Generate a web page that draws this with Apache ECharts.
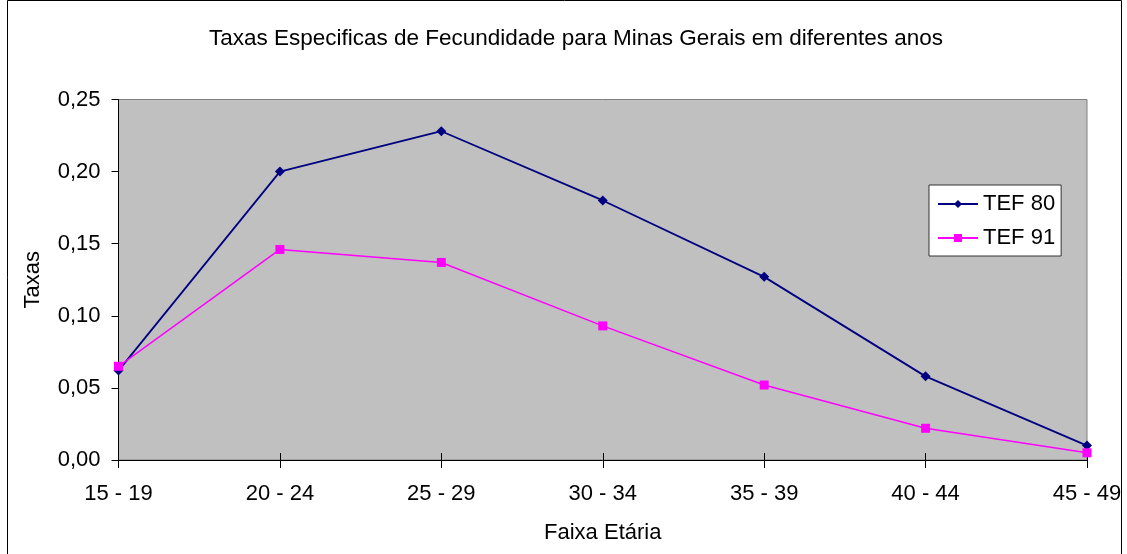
<!DOCTYPE html>
<html>
<head>
<meta charset="utf-8">
<script src="https://cdn.jsdelivr.net/npm/echarts@6/dist/echarts.min.js"></script>
<style>
  html, body { margin: 0; padding: 0; background: #fff; }
  #chart { width: 1127px; height: 554px; }
</style>
</head>
<body>
<div id="chart"></div>
<script>
const faixas = ['15 - 19', '20 - 24', '25 - 29', '30 - 34', '35 - 39', '40 - 44', '45 - 49'];
const tef80 = [0.062, 0.200, 0.228, 0.180, 0.127, 0.058, 0.010];
const tef91 = [0.065, 0.146, 0.137, 0.093, 0.052, 0.022, 0.005];

const font = 'Liberation Sans, Arial, sans-serif';
const fs = 22;
const chart = echarts.init(document.getElementById('chart'));

chart.setOption({
  animation: false,
  textStyle: { fontFamily: font },
  title: {
    text: 'Taxas Especificas de Fecundidade para Minas Gerais em diferentes anos',
    left: 571,
    textAlign: 'center',
    top: 22,
    textStyle: { fontFamily: font, fontSize: 22.5, fontWeight: 'normal', color: '#000' }
  },
  graphic: [{
    type: 'rect',
    shape: { x: 7.5, y: 0.5, width: 1114, height: 560 },
    style: { fill: null, stroke: '#000', lineWidth: 1 }
  }],
  grid: {
    left: 118.5, right: 40, top: 99.5, bottom: 94,
    show: true, backgroundColor: '#c0c0c0', borderColor: '#808080', borderWidth: 1
  },
  legend: {
    orient: 'vertical',
    left: 929, top: 185,
    backgroundColor: '#fff',
    borderColor: '#333',
    borderWidth: 1,
    padding: [8, 6, 7, 8],
    itemGap: 12,
    itemWidth: 40,
    itemHeight: 10,
    textStyle: { fontFamily: font, fontSize: fs, color: '#000' },
    data: ['TEF 80', 'TEF 91']
  },
  xAxis: [{
    type: 'category',
    data: faixas,
    boundaryGap: false,
    name: 'Faixa Etária',
    nameLocation: 'middle',
    nameGap: 62,
    nameTextStyle: { fontFamily: font, fontSize: fs, color: '#000' },
    axisLine: { lineStyle: { color: '#000', width: 1 } },
    axisTick: { length: 8, lineStyle: { color: '#000' } },
    axisLabel: { fontFamily: font, fontSize: fs, color: '#000', margin: 23 },
    splitLine: { show: false }
  }, {
    // short inner ticks so the category ticks cross the axis line
    type: 'category',
    data: faixas,
    boundaryGap: false,
    position: 'bottom',
    axisLine: { show: false },
    axisTick: { inside: true, length: 7, lineStyle: { color: '#000' } },
    axisLabel: { show: false },
    splitLine: { show: false }
  }],
  yAxis: {
    type: 'value',
    min: 0, max: 0.25, interval: 0.05,
    name: 'Taxas',
    nameLocation: 'middle',
    nameGap: 75,
    nameTextStyle: { fontFamily: font, fontSize: fs, color: '#000' },
    axisLine: { show: true, lineStyle: { color: '#000', width: 1 } },
    axisTick: { show: true, length: 7, lineStyle: { color: '#000' } },
    axisLabel: {
      fontFamily: font, fontSize: fs, color: '#000', margin: 18,
      formatter: v => v.toFixed(2).replace('.', ',')
    },
    splitLine: { show: false }
  },
  series: [{
    name: 'TEF 80',
    type: 'line',
    data: tef80,
    symbol: 'diamond',
    symbolSize: 10,
    color: '#000080',
    lineStyle: { width: 1.8, color: '#000080' },
    itemStyle: { color: '#000080' }
  }, {
    name: 'TEF 91',
    type: 'line',
    data: tef91,
    symbol: 'rect',
    symbolSize: 9,
    color: '#ff00ff',
    lineStyle: { width: 1.5, color: '#ff00ff' },
    itemStyle: { color: '#ff00ff' }
  }]
});
</script>
</body>
</html>
